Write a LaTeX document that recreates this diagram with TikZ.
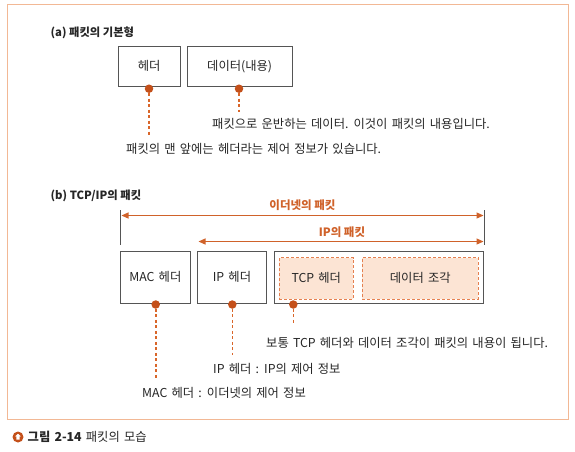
\documentclass[tikz,border=0pt]{standalone}
\usepackage{fontspec}
\setmainfont{Noto Sans CJK KR}
\usetikzlibrary{arrows.meta}
\definecolor{framec}{HTML}{F2B895}
\definecolor{dotc}{HTML}{C4501A}
\definecolor{arrc}{HTML}{D0622A}
\definecolor{dashc}{HTML}{D9662A}
\definecolor{indash}{HTML}{E58050}
\definecolor{fillc}{HTML}{FCE4D4}
\definecolor{txtc}{HTML}{262626}
\definecolor{boxc}{HTML}{555555}
\newcommand{\bodyfont}{\fontsize{12.3}{14}\selectfont\spaceskip=4.2pt\relax}
\tikzset{
  every node/.style={font=\bodyfont, text=txtc, inner sep=0pt},
  pbox/.style={draw=boxc, line width=0.9pt, fill=white},
  inbox/.style={draw=indash, dash pattern=on 3pt off 2pt, line width=0.9pt, fill=fillc},
  pdot/.style={circle, fill=dotc, minimum size=8.5pt, inner sep=0pt},
  lead/.style={draw=dashc, line width=1.6pt, dash pattern=on 3pt off 2.5pt},
  spanarrow/.style={draw=arrc, line width=1.1pt, {Triangle[length=7pt,width=6pt]}-{Triangle[length=7pt,width=6pt]}},
  tick/.style={draw=boxc, line width=0.8pt},
  ttl/.style={anchor=west, font=\fontsize{11.3}{13}\selectfont\bfseries},
  olabel/.style={text=arrc, font=\fontsize{11.5}{13}\selectfont\bfseries},
  note/.style={anchor=west}
}
\begin{document}
\begin{tikzpicture}[x=1pt,y=-1pt]
\useasboundingbox (0,0) rectangle (575,451);
\fill[white] (0,0) rectangle (575,451);
\draw[framec, line width=1.3pt] (7.5,4.5) rectangle (568.5,419.5);

% (a)
\node[ttl] (ta) at (50.5,33) {(a) 패킷의 기본형};
\node[pbox, minimum width=61.7pt, minimum height=40.7pt] (hd) at (149.15,66.35) {헤더};
\node[pbox, minimum width=104.7pt, minimum height=40.7pt] (dt) at (239.65,66.35) {데이터(내용)};
\node[pdot] (d1) at (149,88.7) {};
\node[pdot] (d2) at (239,88.7) {};
\coordinate (e1) at (149,137);
\coordinate (e2) at (239,112);
\draw[lead] (d1) -- (e1);
\draw[lead] (d2) -- (e2);
\node[note] (n1) at (212,124) {패킷으로 운반하는 데이터. 이것이 패킷의 내용입니다.};
\node[note] (n2) at (126,148.5) {패킷의 맨 앞에는 헤더라는 제어 정보가 있습니다.};

% (b)
\node[ttl] (tb) at (50.5,196) {(b) TCP/IP의 패킷};
\coordinate (l1) at (120.7,210);
\coordinate (l2) at (120.7,245);
\coordinate (r1) at (484.3,210);
\coordinate (r2) at (484.3,245);
\draw[tick] (l1) -- (l2);
\draw[tick] (r1) -- (r2);
\coordinate (ea) at (121.5,215.5);
\coordinate (eb) at (483.5,215.5);
\coordinate (ia) at (198.5,241.5);
\coordinate (ib) at (483.5,241.5);
\draw[spanarrow] (ea) -- (eb);
\draw[spanarrow] (ia) -- (ib);
\node[olabel] (le) at (302.5,205) {이더넷의 패킷};
\node[olabel] (li) at (342,232) {IP의 패킷};

\node[pbox, minimum width=69.3pt, minimum height=52.3pt] (mac) at (155.35,277.15) {MAC 헤더};
\node[pbox, minimum width=69.4pt, minimum height=52.3pt] (iph) at (232,277.15) {IP 헤더};
\node[pbox, minimum width=209.3pt, minimum height=52.3pt] (tcpo) at (378.65,277.15) {};
\node[inbox, minimum width=74pt, minimum height=41.3pt] (tcph) at (316.3,278.35) {TCP 헤더};
\node[inbox, minimum width=116pt, minimum height=41.3pt] (frag) at (420.3,278.35) {데이터 조각};

\node[pdot] (dm) at (155.7,304.5) {};
\node[pdot] (di) at (232.3,304.5) {};
\node[pdot] (dtc) at (293.3,304.5) {};
\coordinate (em) at (155.7,380);
\coordinate (ei) at (232.3,355);
\coordinate (et) at (293.3,325);
\draw[lead] (dm) -- (em);
\draw[lead] (di) -- (ei);
\draw[lead] (dtc) -- (et);
\node[note] (m1) at (266,343) {보통 TCP 헤더와 데이터 조각이 패킷의 내용이 됩니다.};
\node[note] (m2) at (213,369) {IP 헤더 : IP의 제어 정보};
\node[note] (m3) at (142,393) {MAC 헤더 : 이더넷의 제어 정보};

% caption
\node[circle, fill=dotc, minimum size=11pt] (ic) at (18,437) {};
\fill[white] (ic.center) ++(0,-3.2) -- ++(3,2.6) -- ++(-1.3,0) -- ++(0,3.2) -- ++(-3.4,0) -- ++(0,-3.2) -- ++(-1.3,0) -- cycle;
\node[anchor=west] (cap) at (27.5,437) {\textbf{그림 2-14} 패킷의 모습};
\end{tikzpicture}
\end{document}
